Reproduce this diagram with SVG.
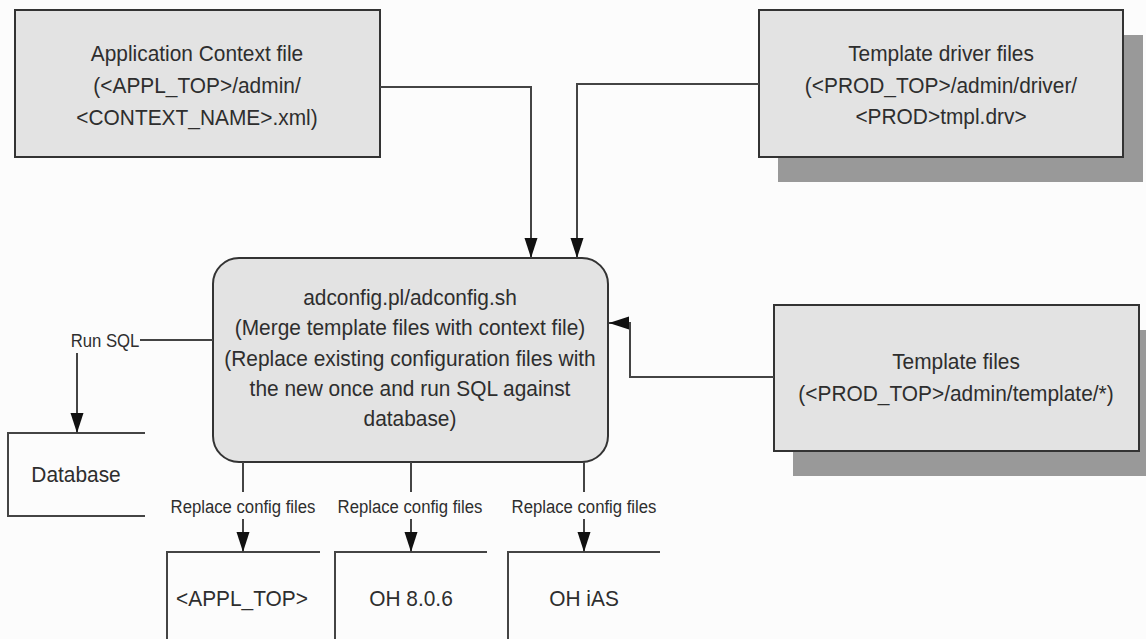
<svg xmlns="http://www.w3.org/2000/svg" width="1146" height="639" viewBox="0 0 1146 639">
<style>
.bg{fill:#fcfcfc}
.box{fill:#e3e3e3;stroke:#333;stroke-width:2}
.shadow{fill:#999}
.open{fill:none;stroke:#444;stroke-width:2}
.conn{fill:none;stroke:#444;stroke-width:2}
.t{font-family:"Liberation Sans",Arial,sans-serif;font-size:22px;fill:#2e2e2e;text-anchor:middle}
.lbl{font-family:"Liberation Sans",Arial,sans-serif;font-size:19px;fill:#2e2e2e;text-anchor:middle}
</style>
<defs>
<marker id="arr" markerUnits="userSpaceOnUse" markerWidth="22" markerHeight="14" refX="20" refY="6.5" orient="auto">
<path d="M0,0 L20,6.5 L0,13 Z" fill="#111"/>
</marker>
</defs>
<rect class="bg" x="0" y="0" width="1146" height="639"/>

<g id="app-context">
<rect class="box" x="15" y="10" width="365" height="147"/>
<text class="t" transform="translate(197,61) scale(0.95,1)">Application Context file</text>
<text class="t" transform="translate(197,93) scale(0.95,1)">(&lt;APPL_TOP&gt;/admin/</text>
<text class="t" transform="translate(197,125) scale(0.95,1)">&lt;CONTEXT_NAME&gt;.xml)</text>
</g>

<g id="template-driver">
<rect class="shadow" x="778" y="35" width="365" height="147"/>
<rect class="box" x="759" y="10" width="364" height="147"/>
<text class="t" transform="translate(941,61) scale(0.95,1)">Template driver files</text>
<text class="t" transform="translate(941,93) scale(0.95,1)">(&lt;PROD_TOP&gt;/admin/driver/</text>
<text class="t" transform="translate(941,124) scale(0.95,1)">&lt;PROD&gt;tmpl.drv&gt;</text>
</g>

<g id="adconfig">
<rect class="box" x="213" y="258" width="395" height="204" rx="26" ry="26"/>
<text class="t" transform="translate(410,305) scale(0.95,1)">adconfig.pl/adconfig.sh</text>
<text class="t" transform="translate(410,335) scale(0.95,1)">(Merge template files with context file)</text>
<text class="t" transform="translate(410,366) scale(0.95,1)">(Replace existing configuration files with</text>
<text class="t" transform="translate(410,396) scale(0.95,1)">the new once and run SQL against</text>
<text class="t" transform="translate(410,426) scale(0.95,1)">database)</text>
</g>

<g id="template-files">
<rect class="shadow" x="793" y="330" width="365" height="146"/>
<rect class="box" x="774" y="305" width="365" height="146"/>
<text class="t" transform="translate(956,369) scale(0.95,1)">Template files</text>
<text class="t" transform="translate(956,401) scale(0.95,1)">(&lt;PROD_TOP&gt;/admin/template/*)</text>
</g>

<g id="database">
<path class="open" d="M145,433 H8 V516 H145"/>
<text class="t" transform="translate(76,482) scale(0.95,1)">Database</text>
</g>

<g id="appl-top">
<path class="open" d="M320,552 H167 V639"/>
<text class="t" transform="translate(242,606) scale(0.95,1)">&lt;APPL_TOP&gt;</text>
</g>

<g id="oh-806">
<path class="open" d="M487,552 H335 V639"/>
<text class="t" transform="translate(411,606) scale(0.95,1)">OH 8.0.6</text>
</g>

<g id="oh-ias">
<path class="open" d="M660,552 H508 V639"/>
<text class="t" transform="translate(584,606) scale(0.95,1)">OH iAS</text>
</g>

<g id="connectors">
<path class="conn" d="M380,87 H531 V258" marker-end="url(#arr)"/>
<path class="conn" d="M759,84 H577 V258" marker-end="url(#arr)"/>
<path class="conn" d="M774,377 H630 V323 H609" marker-end="url(#arr)"/>
<path class="conn" d="M213,340 H140"/>
<text class="lbl" transform="translate(105,347) scale(0.88,1)">Run SQL</text>
<path class="conn" d="M77,353 V433" marker-end="url(#arr)"/>
<path class="conn" d="M243,462 V492"/>
<text class="lbl" transform="translate(243,513) scale(0.88,1)">Replace config files</text>
<path class="conn" d="M243,519 V552" marker-end="url(#arr)"/>
<path class="conn" d="M411,462 V492"/>
<text class="lbl" transform="translate(410,513) scale(0.88,1)">Replace config files</text>
<path class="conn" d="M411,519 V552" marker-end="url(#arr)"/>
<path class="conn" d="M584,462 V492"/>
<text class="lbl" transform="translate(584,513) scale(0.88,1)">Replace config files</text>
<path class="conn" d="M584,519 V552" marker-end="url(#arr)"/>
</g>
</svg>
